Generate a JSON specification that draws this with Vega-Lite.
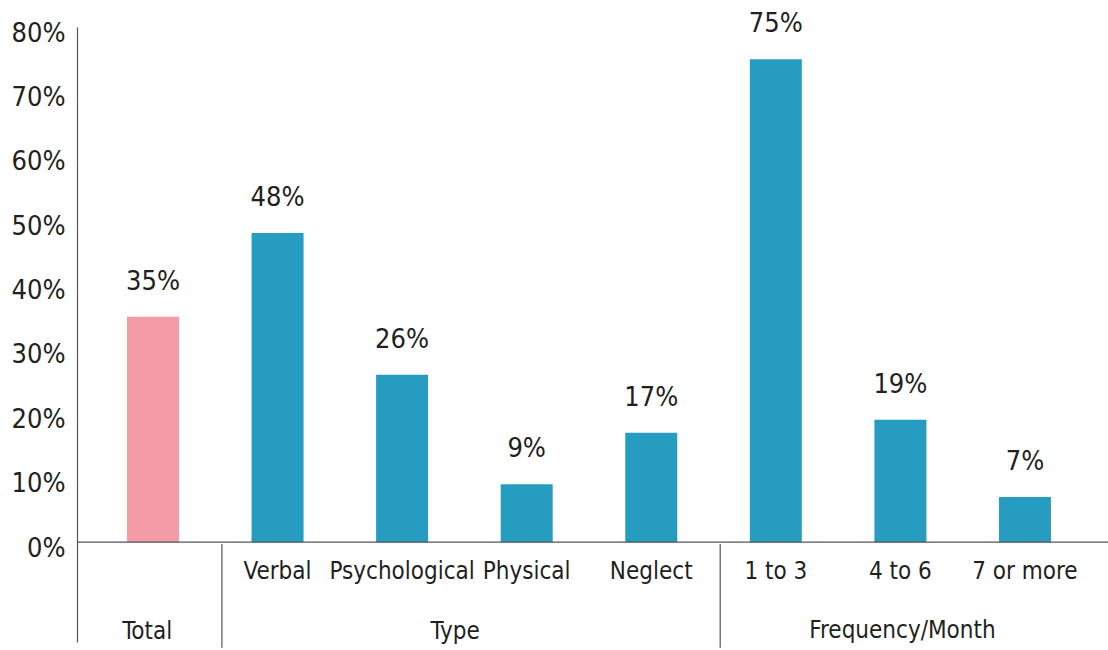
{
  "$schema": "https://vega.github.io/schema/vega-lite/v6.json",
  "autosize": {"type": "none"},
  "padding": {"left": 77, "top": 27, "right": 0, "bottom": 8},
  "width": 1031,
  "height": 615,
  "background": "white",
  "config": {
    "view": {"stroke": null},
    "font": "Liberation Sans Narrow, DejaVu Sans Condensed, Arial Narrow, sans-serif",
    "text": {"font": "Liberation Sans Narrow, DejaVu Sans Condensed, Arial Narrow, sans-serif", "color": "#231f20"}
  },
  "datasets": {
    "bars": [
      {"category": "Total", "group": "Total", "value": 35},
      {"category": "Verbal", "group": "Type", "value": 48},
      {"category": "Psychological", "group": "Type", "value": 26},
      {"category": "Physical", "group": "Type", "value": 9},
      {"category": "Neglect", "group": "Type", "value": 17},
      {"category": "1 to 3", "group": "Frequency/Month", "value": 75},
      {"category": "4 to 6", "group": "Frequency/Month", "value": 19},
      {"category": "7 or more", "group": "Frequency/Month", "value": 7}
    ],
    "separators": [
      {"anchor": "Verbal"},
      {"anchor": "1 to 3"}
    ],
    "groups": [
      {"group": "Total", "anchor": "Total"},
      {"group": "Type", "anchor": "Psychological"},
      {"group": "Frequency/Month", "anchor": "4 to 6"}
    ]
  },
  "layer": [
    {
      "data": {"name": "bars"},
      "mark": {"type": "bar"},
      "encoding": {
        "x": {
          "field": "category", "type": "nominal",
          "scale": {
            "domain": ["Total", "Verbal", "Psychological", "Physical", "Neglect", "1 to 3", "4 to 6", "7 or more"],
            "paddingInner": 0.5826, "paddingOuter": 0.4296, "align": 0.467
          },
          "axis": null
        },
        "y": {
          "field": "value", "type": "quantitative",
          "scale": {"domain": [-15.5, 80], "nice": false, "zero": false},
          "axis": {
            "values": [0, 10, 20, 30, 40, 50, 60, 70, 80],
            "labelExpr": "datum.value + '%'",
            "title": null,
            "grid": false,
            "ticks": false,
            "labelPadding": 12,
            "labelOffset": 6,
            "labelFontSize": 27,
            "labelFont": "Liberation Sans Narrow, DejaVu Sans Condensed, Arial Narrow, sans-serif",
            "labelColor": "#231f20",
            "labelBaseline": "middle",
            "domainColor": "#555555",
            "domainWidth": 1.2
          }
        },
        "color": {
          "field": "group", "type": "nominal",
          "scale": {"domain": ["Total", "Type", "Frequency/Month"], "range": ["#f39ca8", "#279cc1", "#279cc1"]},
          "legend": null
        }
      }
    },
    {
      "data": {"name": "bars"},
      "transform": [{"calculate": "datum.value + '%'", "as": "label"}],
      "mark": {"type": "text", "dy": -27, "baseline": "alphabetic", "fontSize": 27},
      "encoding": {
        "x": {"field": "category", "type": "nominal"},
        "y": {"field": "value", "type": "quantitative"},
        "text": {"field": "label"}
      }
    },
    {
      "data": {"name": "bars"},
      "transform": [{"filter": "datum.category !== 'Total'"}],
      "mark": {"type": "text", "baseline": "middle", "fontSize": 24},
      "encoding": {
        "x": {"field": "category", "type": "nominal"},
        "y": {"datum": -4.66},
        "text": {"field": "category"}
      }
    },
    {
      "data": {"values": [{}]},
      "mark": {"type": "rule", "color": "#555555", "strokeWidth": 1.2},
      "encoding": {"y": {"datum": 0}}
    },
    {
      "data": {"name": "separators"},
      "mark": {"type": "rule", "color": "#555555", "strokeWidth": 1.2},
      "encoding": {
        "x": {"field": "anchor", "type": "nominal", "bandPosition": -0.57},
        "y": {"datum": -0.3},
        "y2": {"datum": -16.4}
      }
    },
    {
      "data": {"name": "groups"},
      "transform": [{"filter": "datum.group === 'Total'"}],
      "mark": {"type": "text", "baseline": "middle", "fontSize": 24},
      "encoding": {
        "x": {"field": "anchor", "type": "nominal", "bandPosition": 0.39},
        "y": {"datum": -14},
        "text": {"field": "group"}
      }
    },
    {
      "data": {"name": "groups"},
      "transform": [{"filter": "datum.group === 'Type'"}],
      "mark": {"type": "text", "baseline": "middle", "fontSize": 24},
      "encoding": {
        "x": {"field": "anchor", "type": "nominal", "bandPosition": 1.52},
        "y": {"datum": -14},
        "text": {"field": "group"}
      }
    },
    {
      "data": {"name": "groups"},
      "transform": [{"filter": "datum.group === 'Frequency/Month'"}],
      "mark": {"type": "text", "baseline": "middle", "fontSize": 24},
      "encoding": {
        "x": {"field": "anchor", "type": "nominal", "bandPosition": 0.54},
        "y": {"datum": -13.8},
        "text": {"field": "group"}
      }
    }
  ]
}
